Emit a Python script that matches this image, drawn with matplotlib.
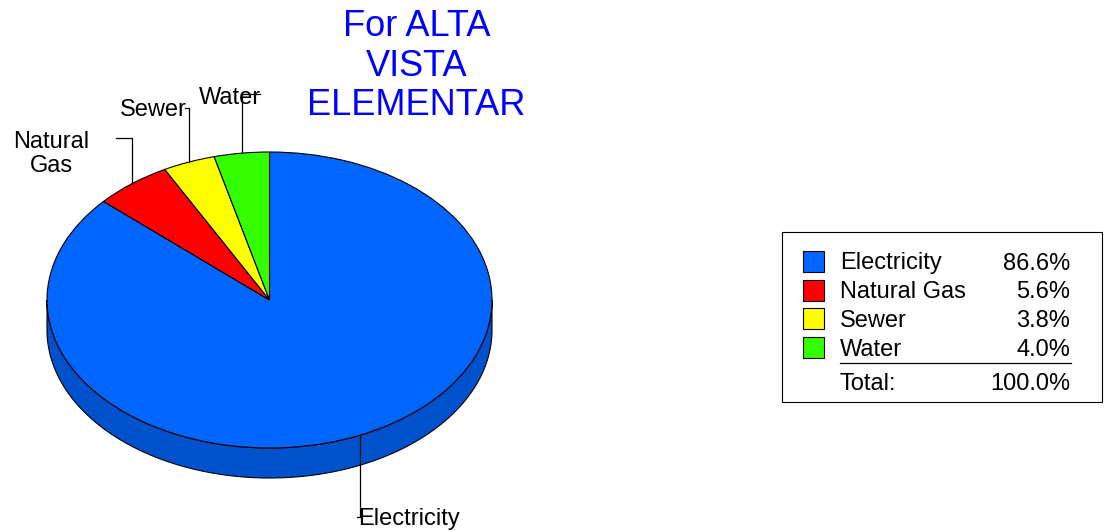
import matplotlib.pyplot as plt
import matplotlib.colors as mcolors
import numpy as np
from matplotlib.patches import Polygon, Rectangle

plt.rcParams['font.family'] = ['Liberation Sans', 'DejaVu Sans']

# data
categories = ['Electricity', 'Natural Gas', 'Sewer', 'Water']
shares = [86.6, 5.6, 3.8, 4.0]
colors = ['#0066FF', '#FF0000', '#FFFF00', '#33FF00']
slice_labels = ['Electricity', 'Natural\nGas', 'Sewer', 'Water']
title = 'For ALTA\nVISTA\nELEMENTAR'

W, H = 1106, 531
fig = plt.figure(figsize=(W / 100, H / 100), dpi=100)

# overlay axes in pixel units (labels, legend, title)
ax = fig.add_axes([0, 0, 1, 1])
ax.set_xlim(0, W)
ax.set_ylim(H, 0)
ax.axis('off')
ax.set_zorder(2)
ax.patch.set_visible(False)

# pie ellipse geometry in pixels
cx, cy, rx, ry, depth = 269.5, 300, 222.5, 148, 30
d = depth / ry
pad = 1.3
px0, px1 = cx - rx * pad, cx + rx * pad
py0, py1 = cy - ry * pad, cy + ry * pad
pax = fig.add_axes([px0 / W, (H - py1) / H, (px1 - px0) / W, (py1 - py0) / H])
pax.set_zorder(1)

pax.pie(shares, colors=colors, startangle=90, counterclock=False,
        wedgeprops=dict(edgecolor='black', linewidth=0.8))
pax.set_aspect('auto')
pax.set_xlim(-pad, pad)
pax.set_ylim(-pad, pad)
pax.axis('off')

# 3d side of the pie (front half only)
fr = np.array(shares) / sum(shares)
ends = 90 - 360 * np.cumsum(fr)
starts = np.r_[90, ends[:-1]]
for s, e, c in zip(starts, ends, colors):
    dark = tuple(np.array(mcolors.to_rgb(c)) * 0.8)
    for k in (-1, 0, 1):
        lo = max(e, -180 + 360 * k)
        hi = min(s, 360 * k)
        if hi > lo:
            t = np.radians(np.linspace(lo, hi, 200))
            xs, ys = np.cos(t), np.sin(t)
            verts = np.r_[np.c_[xs, ys], np.c_[xs[::-1], ys[::-1] - d]]
            pax.add_patch(Polygon(verts, closed=True, fc=dark, ec='black',
                                  lw=0.8, zorder=0.5))

# leader lines + slice labels
fs = 17
mids = np.radians((starts + ends) / 2)
# layout: elbow y, hook end x, text x, text y, ha
layout = [
    (517, 357, 358, 519, 'left'),
    (138, 116, 51, 154, 'center'),
    (108, 185, 187, 110, 'right'),
    (94, 260, 230, 98, 'center'),
]
for m, lab, (ey, hx, tx, ty, ha) in zip(mids, slice_labels, layout):
    x0 = cx + rx * np.cos(m)
    y0 = cy - ry * np.sin(m)
    ax.plot([x0, x0, hx], [y0, ey, ey], color='black', lw=0.9)
    ax.text(tx, ty, lab, fontsize=fs, ha=ha, va='center', linespacing=1.1,
            multialignment='center')

# title
ax.text(416.5, 66, title, color='#0000FF', fontsize=26, ha='center',
        va='center', linespacing=1.15)

# legend table
ax.add_patch(Rectangle((782, 232), 320, 170, fc='white', ec='black', lw=0.8))
row_h = 28.7
for i, (cat, v, c) in enumerate(zip(categories, shares, colors)):
    yc = 261.5 + row_h * i
    ax.add_patch(Rectangle((803, yc - 10.5), 21, 21, fc=c, ec='black', lw=0.8))
    ax.text(840, yc + 2, cat, fontsize=fs, ha='left', va='center')
    ax.text(1070, yc + 2, f'{v:.1f}%', fontsize=fs, ha='right', va='center')
ax.plot([840, 1071], [363, 363], color='black', lw=0.9)
ax.text(840, 384, 'Total:', fontsize=fs, ha='left', va='center')
ax.text(1070, 384, f'{sum(shares):.1f}%', fontsize=fs, ha='right', va='center')

fig.savefig('out.png', dpi=100)
